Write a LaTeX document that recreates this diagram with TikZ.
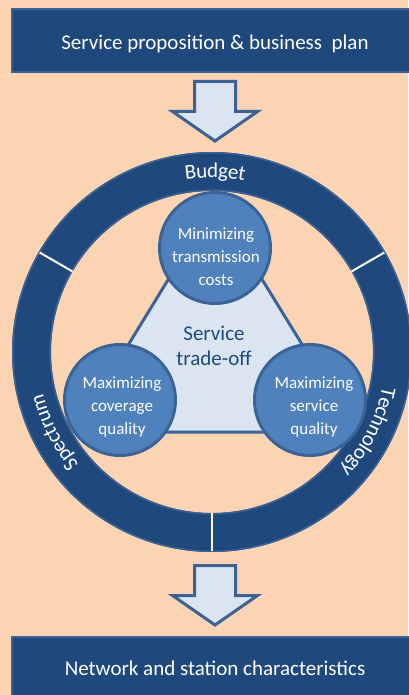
\documentclass[tikz,border=0pt]{standalone}
\usepackage{fontspec}
\setmainfont{Carlito}
\usetikzlibrary{decorations.text,calc}
\definecolor{bgpeach}{HTML}{FBD4B4}
\definecolor{navy}{HTML}{1F497D}
\definecolor{navyedge}{HTML}{3C6192}
\definecolor{pale}{HTML}{DBE5F1}
\definecolor{midblue}{HTML}{4F81BD}
\definecolor{midedge}{HTML}{3B6396}
\newcommand\myringfont{\color{white}\fontsize{21}{21}\selectfont}
\begin{document}
\begin{tikzpicture}[x=1pt,y=-1pt,
  headbox/.style={draw=navyedge, fill=navy, line width=2pt, minimum width=406pt, minimum height=63pt, text=white, font=\fontsize{21}{25}\selectfont, inner sep=0pt},
  bigarrow/.style={draw=navyedge, fill=pale, line width=3pt, line join=miter},
  goalcircle/.style={circle, draw=midedge, fill=midblue, line width=3pt, minimum size=111pt, inner sep=0pt},
  goaltext/.style={text=white, align=center, font=\fontsize{17}{23}\selectfont, inner sep=0pt},
  tradetext/.style={text=navy, align=center, font=\fontsize{21}{25}\selectfont, inner sep=0pt},
  divider/.style={white, line width=2pt},
  ringlabel/.style={decorate, decoration={text along path, text align=center, raise=-7pt, text={|\myringfont|#1}}},
]
\fill[bgpeach] (0,0) rectangle (408,695);
\useasboundingbox (0,0) rectangle (408,695);

% boxes
\node[headbox] (plan) at (215,40.5) {\raisebox{-3pt}[\height][\depth]{Service proposition \& business\ \ plan}};
\node[headbox] (net) at (215,668) {Network and station characteristics};

% block arrows
\foreach \dy/\nm in {0/arrowtop,484/arrowbot}{
  \begin{scope}[yshift=-\dy pt]
    \coordinate (\nm) at (215,80);
    \draw[bigarrow] (194.5,81.5) -- (235.5,81.5) -- (235.5,111.5) -- (257.5,111.5)
      -- (215,141) -- (172.5,111.5) -- (194.5,111.5) -- cycle;
  \end{scope}
}

% ring
\coordinate (C) at (212,352);
\fill[navy, even odd rule] (C) circle[radius=200pt] (C) circle[radius=161pt];
\draw[navyedge, line width=1.5pt] (C) circle[radius=199.2pt] (C) circle[radius=161.8pt];
\foreach \a in {150,30,270}{
  \draw[divider] (C) ++(\a:161pt) -- ++(\a:38pt);
}
\path[ringlabel=Budget] (C) ++(149:181pt) arc[start angle=149, end angle=29, radius=181pt];
\path[ringlabel=Spectrum] (C) ++(267:181pt) arc[start angle=267, end angle=147, radius=181pt];
\path[ringlabel=Technology] (C) ++(33:181pt) arc[start angle=33, end angle=-87, radius=181pt];

% triangle
\coordinate (t1) at (75,432);
\coordinate (t2) at (215,203);
\coordinate (t3) at (356,432);
\draw[draw=midedge, fill=pale, line width=3pt, line join=round] (t1) -- (t2) -- (t3) -- cycle;
\node[tradetext] (trade) at (214,346) {Service\\trade-off};

% circles
\node[goalcircle] (cost) at (215,248) {};
\node[goalcircle] (cover) at (120,400) {};
\node[goalcircle] (qual) at (310,400) {};
\node[goaltext] (costtext) at (216,257) {Minimizing\\transmission\\costs};
\node[goaltext] (covertext) at (122,407) {Maximizing\\coverage\\quality};
\node[goaltext] (qualtext) at (314,407) {Maximizing\\service\\quality};
\end{tikzpicture}
\end{document}
